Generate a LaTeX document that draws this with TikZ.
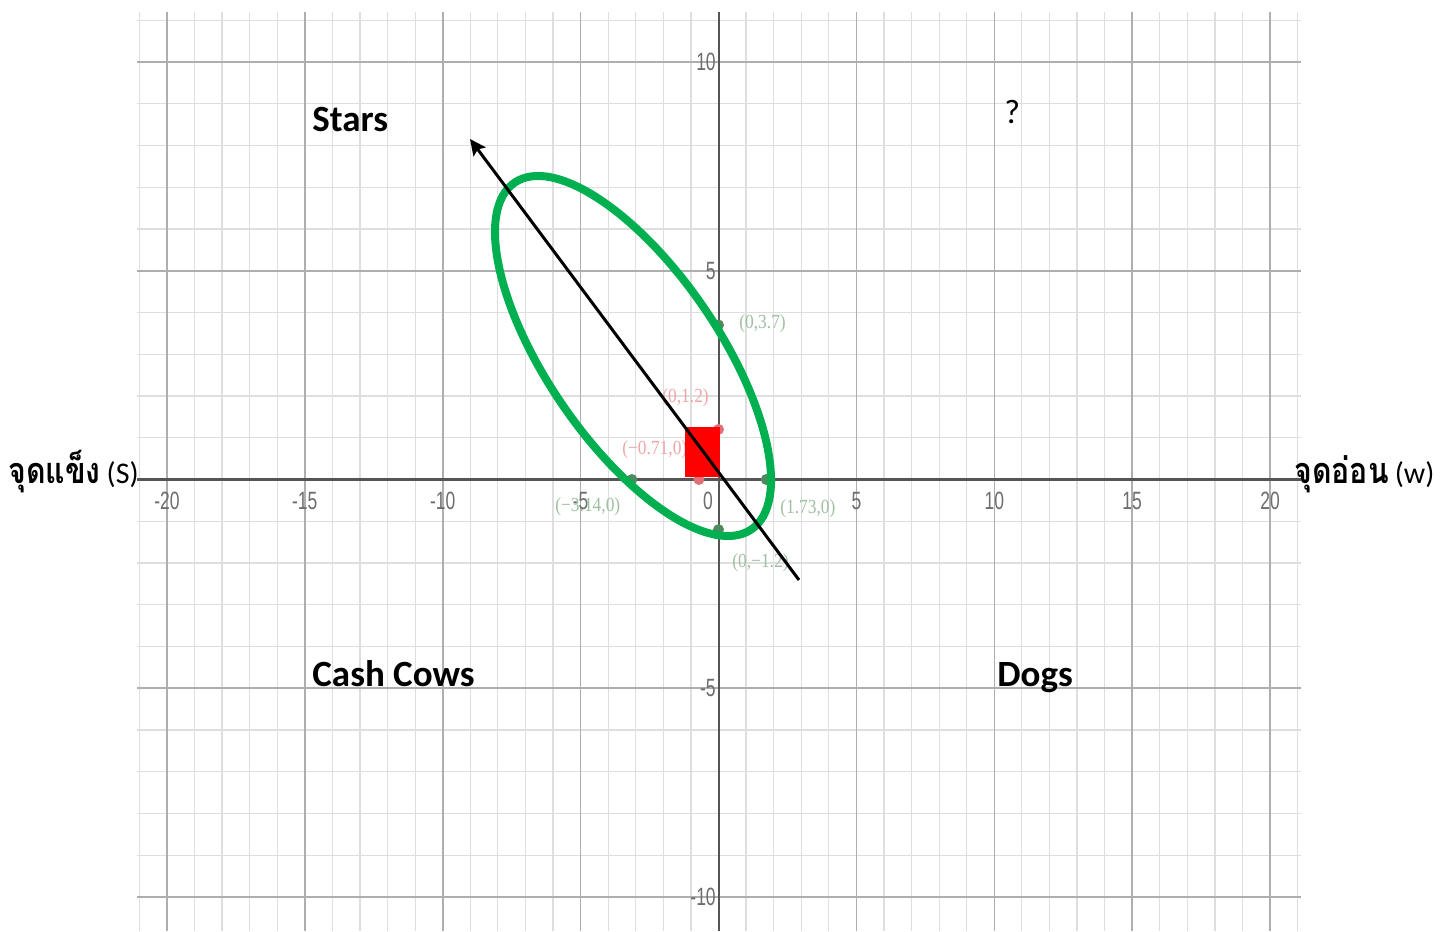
\documentclass[tikz,border=0pt]{standalone}
\usepackage{fontspec}
\setmainfont{Carlito}
\newfontfamily\thaifont[Script=Thai]{Loma}
\newfontfamily\tickfont{Liberation Sans}
\newfontfamily\ptfont{Liberation Serif}
\usetikzlibrary{arrows.meta}
\definecolor{gridminor}{HTML}{DEDEDE}
\definecolor{gridmajor}{HTML}{AEAEAE}
\definecolor{axiscol}{HTML}{555555}
\definecolor{ellgreen}{HTML}{00B050}
\definecolor{ptgreen}{HTML}{4E8A5C}
\definecolor{lblgreen}{HTML}{9FC0A3}
\definecolor{ptred}{HTML}{E07078}
\definecolor{lblred}{HTML}{EFA6AA}
\definecolor{ticklbl}{HTML}{6E6E6E}
\begin{document}
\begin{tikzpicture}[x=0.5pt,y=-0.5pt,
  minorline/.style={draw=gridminor,line width=0.6pt},
  majorline/.style={draw=gridmajor,line width=0.8pt},
  xaxisline/.style={draw=axiscol,line width=1.4pt},
  yaxisline/.style={draw=axiscol,line width=1pt},
  quadlabel/.style={font=\fontsize{18.5}{22}\selectfont\bfseries,anchor=base west,inner sep=0pt},
  sidelabel/.style={anchor=base west,inner sep=0pt},
  ticklabel/.style={font=\tickfont\fontsize{12.5}{12.5}\selectfont,text=ticklbl,xscale=0.7,inner sep=0pt},
  ptlabel/.style={font=\ptfont\fontsize{10}{10}\selectfont,xscale=0.87,inner sep=0pt,anchor=west},
  gdot/.style={circle,fill=ptgreen,inner sep=0pt,minimum size=5.5pt},
  rdot/.style={circle,fill=ptred,inner sep=0pt,minimum size=5.5pt}
]
\useasboundingbox (0,0) rectangle (1449,931);
\fill[white] (0,0) rectangle (1449,931);
% minor grid
\foreach \k in {-21,...,21}{\pgfmathsetmacro\gx{718.5+27.58*\k}\draw[minorline] (\gx,12) -- (\gx,931);}
\foreach \k in {-10,...,11}{\pgfmathsetmacro\gy{479.5-41.75*\k}\draw[minorline] (137,\gy) -- (1301,\gy);}
% major grid
\foreach \k in {-20,-15,-10,-5,5,10,15,20}{\pgfmathsetmacro\gx{718.5+27.58*\k}\draw[majorline] (\gx,12) -- (\gx,931);}
\foreach \k in {-10,-5,5,10}{\pgfmathsetmacro\gy{479.5-41.75*\k}\draw[majorline] (137,\gy) -- (1301,\gy);}
% axes
\draw[xaxisline] (137,479.5) -- (1301,479.5);
\draw[yaxisline] (718.5,12) -- (718.5,931);
% tick labels
\foreach \k [count=\n] in {-20,-15,-10,-5,5,10,15,20}{\pgfmathsetmacro\gx{718.5+27.58*\k}\node[ticklabel] (xtick\n) at (\gx,501) {\k};}
\node[ticklabel] (xtick0) at (708,501) {0};
\foreach \k [count=\n] in {10,5,-5,-10}{\pgfmathsetmacro\gy{479.5-41.75*\k}\node[ticklabel,anchor=east] (ytick\n) at (716,\gy) {\k};}
% points and labels
\node[gdot] (g1) at (718.5,325.0) {};
\node[gdot] (g2) at (766.2,479.5) {};
\node[gdot] (g3) at (631.9,479.5) {};
\node[gdot] (g4) at (718.5,529.6) {};
\node[rdot] (r1) at (718.5,429.4) {};
\node[rdot] (r2) at (698.9,479.5) {};
\node[ptlabel,text=lblgreen] (lg1) at (739,324) {(0,3.7)};
\node[ptlabel,text=lblgreen] (lg2) at (780,509) {(1.73,0)};
\node[ptlabel,text=lblgreen] (lg3) at (555,507) {(−3.14,0)};
\node[ptlabel,text=lblgreen] (lg4) at (732,563) {(0,−1.2)};
\node[ptlabel,text=lblred] (lr1) at (662,398) {(0,1.2)};
\node[ptlabel,text=lblred] (lr2) at (622,450) {(−0.71,0)};
% red square
\fill[red] (685,427) rectangle (720,477);
% green ellipse
\draw[ellgreen,line width=4pt,rotate around={124.34:(633,356)}] (633,356) ellipse [x radius=104.98pt,y radius=42.9pt];
% arrow
\coordinate (arrowtail) at (799,580);
\coordinate (arrowtip) at (470,139);
\draw[line width=1.5pt,-{Stealth[length=8pt,width=7.5pt,inset=1.5pt]}] (arrowtail) -- (arrowtip);
% quadrant labels
\node[quadlabel] (stars) at (312,131.5) {Stars};
\node[quadlabel] (cows) at (312,686.5) {Cash Cows};
\node[quadlabel] (dogs) at (997,686.5) {Dogs};
\node[quadlabel,font=\fontsize{17}{20}\selectfont] (qmark) at (1004,123) {?};
% side labels
\node[sidelabel] (strength) at (8,483) {\scalebox{0.84}[1]{\thaifont\bfseries\fontsize{18}{20}\selectfont จุดแข็ง}\hspace{3pt}{\fontsize{15}{17}\selectfont (S)}};
\node[sidelabel] (weakness) at (1294,483) {\scalebox{0.84}[1]{\thaifont\bfseries\fontsize{18}{20}\selectfont จุดอ่อน}\hspace{3pt}{\fontsize{15}{17}\selectfont (w)}};
\end{tikzpicture}
\end{document}
